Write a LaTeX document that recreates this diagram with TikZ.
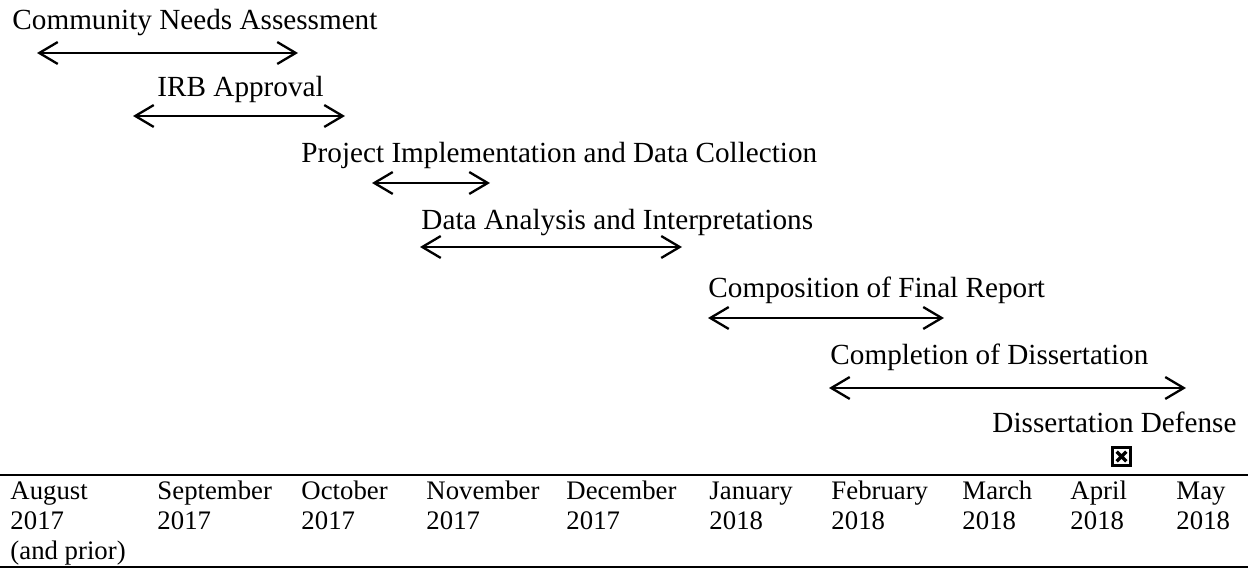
\documentclass[tikz,border=0pt]{standalone}
\usepackage{fontspec}
\setmainfont{Liberation Serif}
\usetikzlibrary{arrows.meta}
\begin{document}
\begin{tikzpicture}[x=0.411pt,y=-0.411pt,
  lbl/.style={anchor=base west,inner sep=0pt,font=\fontsize{12}{14}\selectfont},
  mon/.style={anchor=base west,inner sep=0pt,align=left,font=\fontsize{11}{12.4}\selectfont},
  span/.style={{Straight Barb[length=7.6pt,width=9pt]}-{Straight Barb[length=7.6pt,width=9pt]},line width=0.95pt},
  rulebar/.style={line width=0.8pt},
  chk/.style={draw,line width=0.85pt,minimum size=7.4pt,inner sep=0pt,
    path picture={\draw[line width=1.4pt,shift={(path picture bounding box.center)}]
      (-2pt,-2pt)--(2pt,2pt) (-2pt,2pt)--(2pt,-2pt);}}]
\useasboundingbox (0,0) rectangle (1248,568);

% task labels
\node[lbl] (t1) at (12,30) {Community Needs Assessment};
\node[lbl] (t2) at (157,97) {IRB Approval};
\node[lbl] (t3) at (301,163) {Project Implementation and Data Collection};
\node[lbl] (t4) at (421,230) {Data Analysis and Interpretations};
\node[lbl] (t5) at (708,298) {Composition of Final Report};
\node[lbl] (t6) at (830,365) {Completion of Dissertation};
\node[lbl] (t7) at (992,433) {Dissertation Defense};

% arrow end points
\coordinate (a1l) at (37,53);   \coordinate (a1r) at (298,53);
\coordinate (a2l) at (133,116); \coordinate (a2r) at (345,116);
\coordinate (a3l) at (372,183); \coordinate (a3r) at (490,183);
\coordinate (a4l) at (420,247); \coordinate (a4r) at (682,247);
\coordinate (a5l) at (708,318); \coordinate (a5r) at (944,318);
\coordinate (a6l) at (829,388); \coordinate (a6r) at (1186,388);

\draw[span] (a1l) -- (a1r);
\draw[span] (a2l) -- (a2r);
\draw[span] (a3l) -- (a3r);
\draw[span] (a4l) -- (a4r);
\draw[span] (a5l) -- (a5r);
\draw[span] (a6l) -- (a6r);

% milestone box
\node[chk] (box) at (1121.5,456.5) {};

% table rules
\coordinate (r1l) at (0,475);  \coordinate (r1r) at (1248,475);
\coordinate (r2l) at (0,567);  \coordinate (r2r) at (1248,567);
\draw[rulebar] (r1l) -- (r1r);
\draw[rulebar] (r2l) -- (r2r);

% months (base anchor = baseline of last line)
\node[mon] (m1) at (10,560) {August\\2017\\(and prior)};
\node[mon] (m2) at (157,530) {September\\2017};
\node[mon] (m3) at (301,530) {October\\2017};
\node[mon] (m4) at (426,530) {November\\2017};
\node[mon] (m5) at (566,530) {December\\2017};
\node[mon] (m6) at (709,530) {January\\2018};
\node[mon] (m7) at (831,530) {February\\2018};
\node[mon] (m8) at (962,530) {March\\2018};
\node[mon] (m9) at (1070,530) {April\\2018};
\node[mon] (m10) at (1176,530) {May\\2018};
\end{tikzpicture}
\end{document}
